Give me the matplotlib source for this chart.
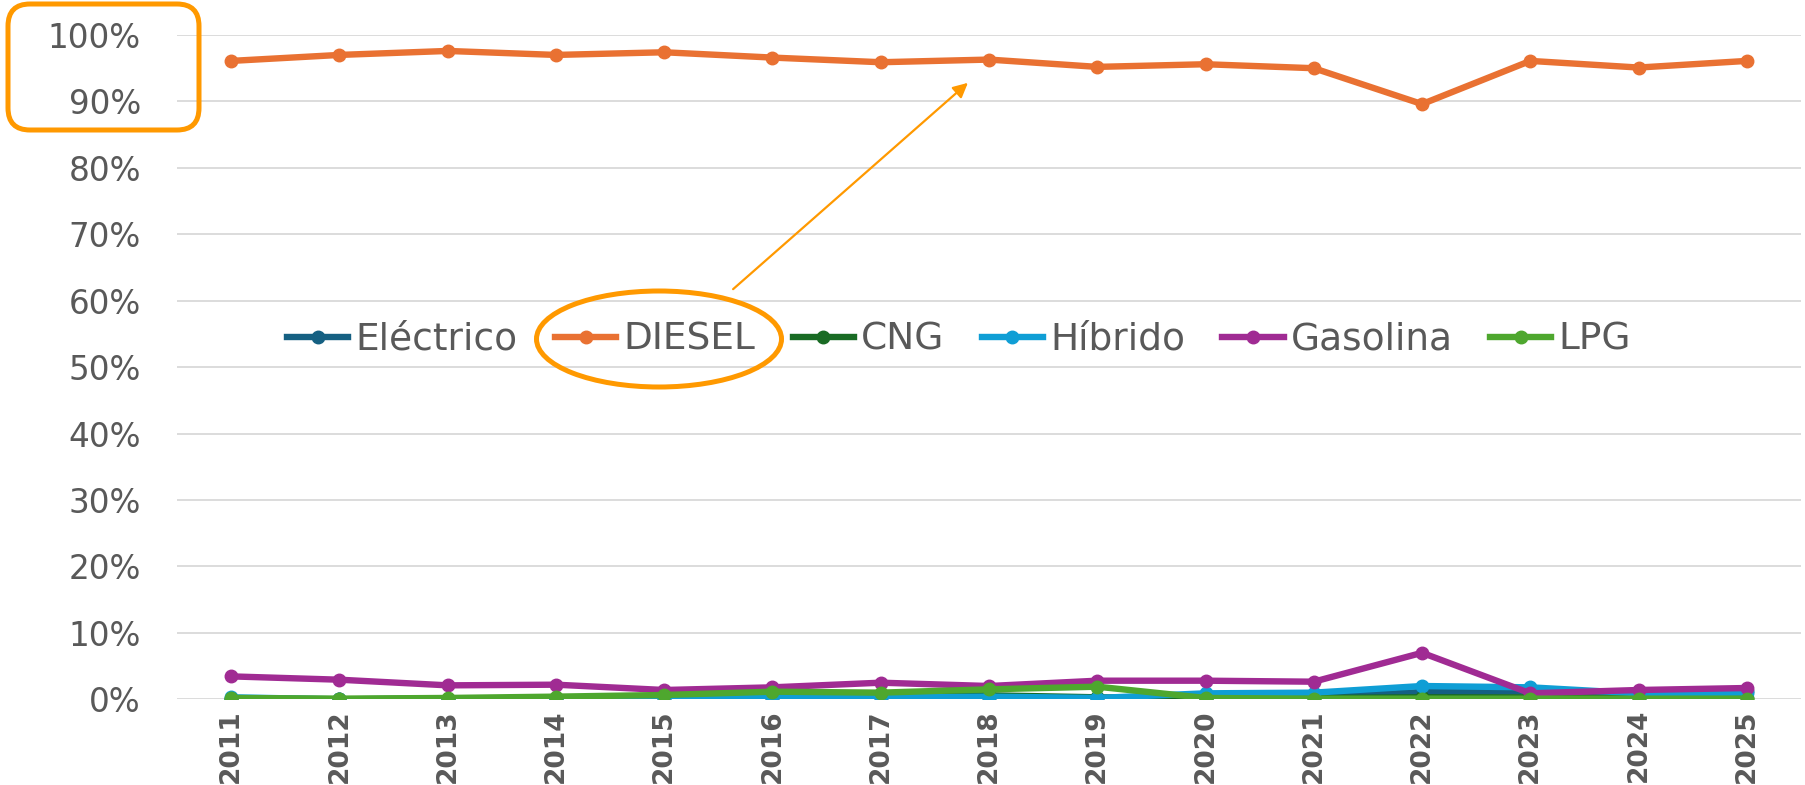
import numpy as np
import matplotlib
matplotlib.use("Agg")
import matplotlib.pyplot as plt
from matplotlib.patches import FancyBboxPatch, Ellipse, FancyArrowPatch
from matplotlib.transforms import IdentityTransform
from matplotlib.ticker import FuncFormatter

years = ["2011", "2012", "2013", "2014", "2015", "2016", "2017", "2018",
         "2019", "2020", "2021", "2022", "2023", "2024", "2025"]

# share of each fuel type, in percent
electrico = [0.0, 0.0, 0.0, 0.1, 0.1, 0.1, 0.1, 0.1, 0.1, 0.2, 0.3, 1.1, 1.2, 1.1, 1.2]
diesel = [96.1, 97.0, 97.6, 97.0, 97.4, 96.6, 95.9, 96.3, 95.2, 95.6, 95.0, 89.6, 96.1, 95.1, 96.1]
cng = [0.1, 0.0, 0.1, 0.2, 0.3, 0.4, 0.5, 0.6, 0.3, 0.1, 0.2, 0.3, 0.3, 0.2, 0.2]
hibrido = [0.3, 0.0, 0.1, 0.2, 0.3, 0.3, 0.3, 0.4, 0.2, 0.9, 1.0, 2.0, 1.8, 0.9, 1.0]
gasolina = [3.45, 2.95, 2.1, 2.2, 1.4, 1.8, 2.5, 2.0, 2.8, 2.8, 2.65, 7.0, 0.9, 1.4, 1.7]
lpg = [0.2, 0.1, 0.2, 0.4, 0.65, 1.15, 1.0, 1.5, 1.9, 0.2, 0.1, 0.1, 0.1, 0.1, 0.1]

series = [
    ("Eléctrico", electrico, "#156082"),
    ("DIESEL", diesel, "#E97132"),
    ("CNG", cng, "#196B24"),
    ("Híbrido", hibrido, "#0F9ED5"),
    ("Gasolina", gasolina, "#A02B93"),
    ("LPG", lpg, "#4EA72E"),
]

W, H = 1806, 785
fig = plt.figure(figsize=(W / 100, H / 100), dpi=100)
ax = fig.add_axes([177 / W, 1 - 699.3 / H, (1801 - 177) / W, (699.3 - 35) / H])

x = np.arange(len(years))
for name, vals, col in series:
    ax.plot(x, vals, color=col, lw=4.6, marker="o", markersize=9, label=name,
            solid_joinstyle="round")

ax.set_xlim(-0.5, len(years) - 0.5)
ax.set_ylim(0, 100)
ax.set_yticks(np.arange(0, 101, 10))
ax.yaxis.set_major_formatter(FuncFormatter(lambda v, p: f"{v:.0f}%"))
ax.grid(axis="y", color="#D9D9D9", lw=1.3)
ax.set_axisbelow(True)
for s in ax.spines.values():
    s.set_visible(False)

ax.set_xticks(x)
ax.set_xticklabels(years, rotation=90, fontsize=19, fontweight="bold",
                   color="#595959")
ax.tick_params(axis="x", length=0, pad=7)
ax.tick_params(axis="y", length=0, pad=26, labelsize=23.5, labelcolor="#595959")

ax.legend(ncol=6, loc="center", bbox_to_anchor=(959 / W, 1 - 340 / H),
          bbox_transform=fig.transFigure, frameon=False, fontsize=27,
          handlelength=1.63, handletextpad=0.19, columnspacing=1.0,
          borderpad=0, labelcolor="#595959")

# orange highlights drawn in pixel coordinates
orange = "#FF9900"
box = FancyBboxPatch((8, H - 130), 191, 126,
                     boxstyle="round,pad=0,rounding_size=22",
                     fill=False, ec=orange, lw=3.6, transform=IdentityTransform())
fig.patches.append(box)
ell = Ellipse((659, H - 339), 245, 96, fill=False, ec=orange, lw=3.6,
              transform=IdentityTransform())
fig.patches.append(ell)
arr = FancyArrowPatch((731, H - 291), (970, H - 81), arrowstyle="-|>",
                      mutation_scale=22, color=orange, lw=1.6,
                      transform=IdentityTransform())
fig.patches.append(arr)

fig.savefig("out.png", dpi=100)
